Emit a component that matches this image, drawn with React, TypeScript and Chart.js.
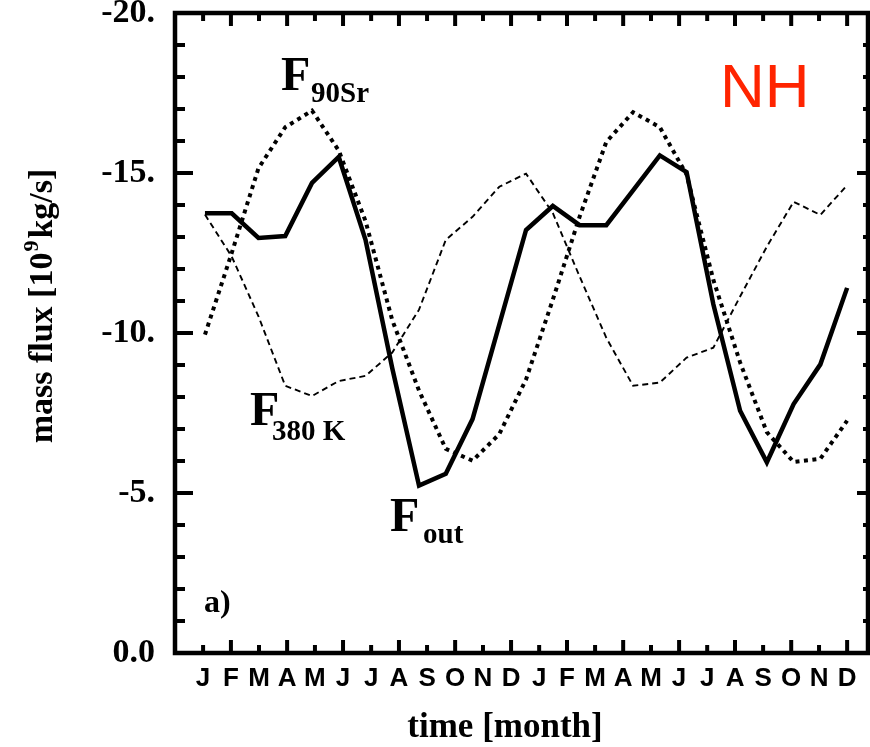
import React, { useEffect, useRef } from "react";
import { Chart, registerables } from "chart.js";

Chart.register(...registerables);

// ---- data (25 monthly values, Jan year 1 .. Jan year 3) ----
const MONTH_INDEX = [0, 1, 2, 3, 4, 5, 6, 7, 8, 9, 10, 11, 12, 13, 14, 15, 16, 17, 18, 19, 20, 21, 22, 23, 24];

const F_OUT = [
  -13.74, -13.74, -12.97, -13.03, -14.69, -15.5, -12.91, -8.9, -5.23, -5.6, -7.31, -10.26,
  -13.22, -13.97, -13.37, -13.37, -14.46, -15.55, -15.03, -10.9, -7.57, -5.96, -7.78, -9.02, -11.41,
];

const F_90SR = [
  -9.95, -12.5, -15.15, -16.43, -16.95, -15.7, -13.5, -10.4, -8.2, -6.38, -6.01, -6.84,
  -8.55, -11.04, -13.63, -15.97, -16.9, -16.43, -14.95, -11.66, -9.08, -6.9, -5.97, -6.07, -7.26,
];

const F_380K = [
  -13.7, -12.39, -10.52, -8.35, -8.03, -8.5, -8.66, -9.39, -10.73, -12.91, -13.63, -14.57,
  -14.98, -13.75, -11.77, -9.85, -8.35, -8.45, -9.23, -9.54, -11.14, -12.7, -14.1, -13.69, -14.62,
];

// ---- axes ----
const MONTH_LABELS = ["J", "F", "M", "A", "M", "J", "J", "A", "S", "O", "N", "D", "J", "F", "M", "A", "M", "J", "J", "A", "S", "O", "N", "D"];
const MONTH_TICKS = [
  -0.07, 0.97, 2.02, 3.07, 4.11, 5.16, 6.21, 7.25, 8.3, 9.35, 10.39, 11.44,
  12.49, 13.53, 14.58, 15.63, 16.67, 17.72, 18.77, 19.81, 20.86, 21.91, 22.95, 24.0,
];
const X_MIN = -1.12;
const X_MAX = 24.78;

const Y_TICKS = [-20, -15, -10, -5, 0];
const Y_TICK_LABELS = ["-20.", "-15.", "-10.", "-5.", "0.0"];
const Y_MINOR_TICKS = [-20, -19, -18, -17, -16, -15, -14, -13, -12, -11, -10, -9, -8, -7, -6, -5, -4, -3, -2, -1, 0];
const Y_MIN = -20;
const Y_MAX = 0;

const SERIF = '"Liberation Serif", "Times New Roman", serif';
const SANS = '"Liberation Sans", Arial, sans-serif';
const NARROW = '"Liberation Sans Narrow", "Liberation Sans", Arial, sans-serif';

const zeroPad = (s: any) => {
  s.paddingTop = 0;
  s.paddingBottom = 0;
  s.paddingLeft = 0;
  s.paddingRight = 0;
};

export default function App() {
  const ref = useRef<HTMLCanvasElement | null>(null);

  useEffect(() => {
    const canvas = ref.current;
    if (!canvas) return;

    const framePlugin = {
      id: "frameAndNotes",
      afterDatasetsDraw(chart: any) {
        const { ctx, chartArea: a, scales } = chart;
        const xs = scales.x;
        const ys = scales.y;
        ctx.save();
        ctx.strokeStyle = "#000";
        ctx.lineCap = "butt";

        // y ticks (left and right, inward)
        ctx.lineWidth = 4;
        Y_MINOR_TICKS.forEach((v) => {
          const y = ys.getPixelForValue(v);
          const major = v % 5 === 0;
          ctx.beginPath();
          ctx.moveTo(a.left, y);
          ctx.lineTo(a.left + (major ? 18 : 10), y);
          ctx.stroke();
          ctx.beginPath();
          ctx.moveTo(a.right, y);
          ctx.lineTo(a.right - (major ? 11 : 5), y);
          ctx.stroke();
        });
        // x ticks (top and bottom, inward)
        MONTH_TICKS.forEach((t, k) => {
          const x = xs.getPixelForValue(t);
          const len = k % 2 ? 13 : 8;
          ctx.beginPath();
          ctx.moveTo(x, a.top);
          ctx.lineTo(x, a.top + len);
          ctx.stroke();
          ctx.beginPath();
          ctx.moveTo(x, a.bottom);
          ctx.lineTo(x, a.bottom - len);
          ctx.stroke();
        });
        ctx.lineWidth = 4.5;
        ctx.strokeRect(a.left, a.top, a.right - a.left, a.bottom - a.top);

        // curve labels
        ctx.fillStyle = "#000";
        ctx.textAlign = "left";
        ctx.textBaseline = "alphabetic";
        ctx.font = `bold 48px ${SERIF}`;
        ctx.fillText("F", 281, 90);
        ctx.fillText("F", 250, 425);
        ctx.fillText("F", 390, 531);
        ctx.font = `bold 29px ${SERIF}`;
        ctx.fillText("90Sr", 311, 102);
        ctx.fillText("380 K", 272, 440);
        ctx.fillText("out", 423, 543);

        ctx.font = `bold 32px ${SERIF}`;
        ctx.fillText("a)", 204, 612);

        ctx.fillStyle = "#ff2400";
        ctx.font = `62px ${SANS}`;
        ctx.fillText("NH", 720, 107);

        // axis titles
        ctx.fillStyle = "#000";
        ctx.font = `bold 35px ${SERIF}`;
        ctx.textAlign = "center";
        ctx.fillText("time [month]", 505, 737);

        ctx.save();
        ctx.translate(52, 306);
        ctx.rotate(-Math.PI / 2);
        ctx.textAlign = "left";
        const big = `bold 34px ${SERIF}`;
        const small = `bold 22px ${SERIF}`;
        const parts: [string, string, number, number][] = [
          ["mass flux [10", big, 0, 1],
          ["9", small, -14, 2],
          ["kg/s]", big, 0, 0],
        ];
        let total = 0;
        parts.forEach(([t, f, , gap]) => {
          ctx.font = f;
          total += ctx.measureText(t).width + gap;
        });
        let x = -total / 2;
        parts.forEach(([t, f, dy, gap]) => {
          ctx.font = f;
          ctx.fillText(t, x, dy);
          x += ctx.measureText(t).width + gap;
        });
        ctx.restore();

        ctx.restore();
      },
    };

    const toPts = (arr: number[]) => arr.map((y, i) => ({ x: MONTH_INDEX[i], y }));

    const chart = new Chart(canvas, {
      type: "line",
      data: {
        datasets: [
          {
            label: "F_out",
            data: toPts(F_OUT),
            borderColor: "#000",
            borderWidth: 4.5,
            pointRadius: 0,
            tension: 0,
            fill: false,
          },
          {
            label: "F_90Sr",
            data: toPts(F_90SR),
            borderColor: "#000",
            borderWidth: 4,
            borderDash: [4, 4.5],
            borderCapStyle: "butt",
            pointRadius: 0,
            tension: 0,
            fill: false,
          },
          {
            label: "F_380K",
            data: toPts(F_380K),
            borderColor: "#000",
            borderWidth: 1.9,
            borderDash: [6, 4],
            pointRadius: 0,
            tension: 0,
            fill: false,
          },
        ],
      },
      options: {
        animation: false,
        responsive: false,
        devicePixelRatio: 1,
        layout: { autoPadding: false, padding: { top: 13, right: 2, left: 0, bottom: 0 } },
        plugins: { legend: { display: false }, tooltip: { enabled: false }, title: { display: false } },
        scales: {
          x: {
            type: "linear",
            min: X_MIN,
            max: X_MAX,
            grid: { display: false, drawTicks: false },
            border: { display: false },
            afterBuildTicks: (s: any) => {
              s.ticks = MONTH_TICKS.map((v) => ({ value: v }));
            },
            afterFit: (s: any) => {
              s.height = 94;
              zeroPad(s);
            },
            ticks: {
              autoSkip: false,
              maxRotation: 0,
              minRotation: 0,
              padding: 10,
              color: "#000",
              font: { family: NARROW, size: 26, weight: "bold" },
              callback: (_v: any, i: number) => MONTH_LABELS[i],
            },
          },
          y: {
            type: "linear",
            reverse: true,
            min: Y_MIN,
            max: Y_MAX,
            grid: { display: false, drawTicks: false },
            border: { display: false },
            afterBuildTicks: (s: any) => {
              s.ticks = Y_TICKS.map((v) => ({ value: v }));
            },
            afterFit: (s: any) => {
              s.width = 175;
              zeroPad(s);
            },
            ticks: {
              autoSkip: false,
              padding: 20,
              color: "#000",
              font: { family: SERIF, size: 34, weight: "bold" },
              callback: (_v: any, i: number) => Y_TICK_LABELS[i],
            },
          },
        },
      },
      plugins: [framePlugin],
    } as any);

    return () => chart.destroy();
  }, []);

  return (
    <div style={{ position: "absolute", left: 0, top: 0, width: 870, height: 747, background: "#fff" }}>
      <canvas ref={ref} width={870} height={747} style={{ display: "block" }} />
    </div>
  );
}
